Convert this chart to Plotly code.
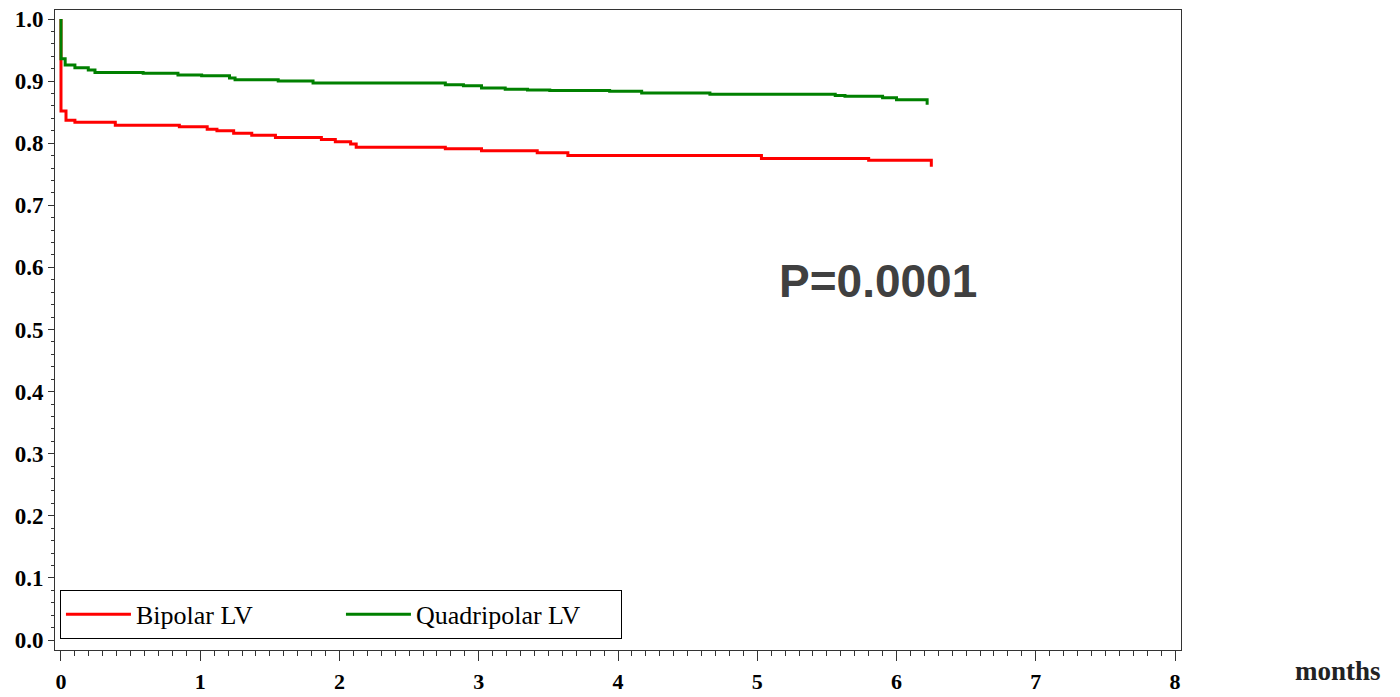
import plotly.graph_objects as go

# Kaplan-Meier steps (time in months, survival after the step)
bipolar_t = [0, 0, 0.036, 0.1, 0.39, 0.85, 1.05, 1.12, 1.24, 1.37, 1.54, 1.87, 1.97, 2.08, 2.12,
             2.76, 3.02, 3.42, 3.64, 5.03, 5.80, 6.25]
bipolar_s = [1.0, 0.852, 0.837, 0.8336, 0.829, 0.8266, 0.8223, 0.820, 0.816, 0.8127, 0.809, 0.806,
             0.8025, 0.7987, 0.7933, 0.791, 0.788, 0.7847, 0.780, 0.7755, 0.7725, 0.762]

quad_t = [0, 0, 0.03, 0.1, 0.196, 0.244, 0.59, 0.84, 1.01, 1.21, 1.25, 1.56, 1.81, 2.76, 2.89,
          3.02, 3.19, 3.35, 3.51, 3.94, 4.17, 4.66, 5.56, 5.63, 5.90, 6.0, 6.22]
quad_s = [1.0, 0.936, 0.926, 0.9216, 0.918, 0.914, 0.9125, 0.910, 0.9088, 0.905, 0.902, 0.900,
          0.897, 0.894, 0.8926, 0.889, 0.887, 0.8857, 0.885, 0.8835, 0.881, 0.879, 0.877, 0.8755,
          0.8733, 0.870, 0.862]

series_names = ["Bipolar LV", "Quadripolar LV"]
series_colors = ["#ff0000", "#008000"]
p_text = "P=0.0001"
x_title = "months"

fig = go.Figure()
for t, s, name, col in [(bipolar_t, bipolar_s, series_names[0], series_colors[0]),
                        (quad_t, quad_s, series_names[1], series_colors[1])]:
    fig.add_trace(go.Scatter(x=t, y=s, mode="lines", name=name,
                             line=dict(color=col, width=3, shape="hv")))

tickfont = dict(family="Liberation Serif", size=23, color="black", weight="bold")
xtickfont = dict(family="Liberation Serif", size=22, color="black", weight="bold")

# page body has an 8px margin, so the figure is sized to fill the rest of the window
fig.update_layout(
    width=1392, height=689,
    margin=dict(l=47, r=219, t=2, b=47, autoexpand=False),
    paper_bgcolor="white", plot_bgcolor="white",
    showlegend=True,
    legend=dict(orientation="h", x=0.0044, y=0.094, xanchor="left", yanchor="top",
                bordercolor="black", borderwidth=1, bgcolor="white",
                itemwidth=65, entrywidth=200, entrywidthmode="pixels",
                font=dict(family="Liberation Serif", size=26, color="black")),
    xaxis=dict(range=[-0.043, 8.043], dtick=1, tick0=0, showgrid=False, zeroline=False,
               showline=True, linecolor="#333333", linewidth=1, mirror=True, automargin=False,
               ticks="outside", ticklen=10, tickcolor="#333333", tickfont=xtickfont,
               ticklabelstandoff=2, ticklabeloverflow="allow",
               minor=dict(dtick=0.1, tick0=0, ticks="outside", ticklen=5, tickcolor="#333333")),
    yaxis=dict(range=[-0.0161, 1.0145], dtick=0.1, tick0=0, tickformat=".1f", showgrid=False,
               zeroline=False, showline=True, linecolor="#333333", linewidth=1, mirror=True,
               automargin=False, ticklabeloverflow="allow",
               ticks="outside", ticklen=6, tickcolor="#333333", tickfont=tickfont,
               minor=dict(dtick=0.02, tick0=0, ticks="outside", ticklen=3, tickcolor="#333333")),
    annotations=[
        dict(text=p_text, xref="x", yref="y", x=5.87, y=0.578, showarrow=False,
             font=dict(family="Liberation Sans", size=46, color="#404040", weight="bold")),
        dict(text=x_title, xref="paper", yref="paper", x=1.1394, y=-0.0328, xanchor="center",
             yanchor="middle", showarrow=False,
             font=dict(family="Liberation Serif", size=27, color="#222222", weight="bold")),
    ],
)

fig.write_html("out.html")
